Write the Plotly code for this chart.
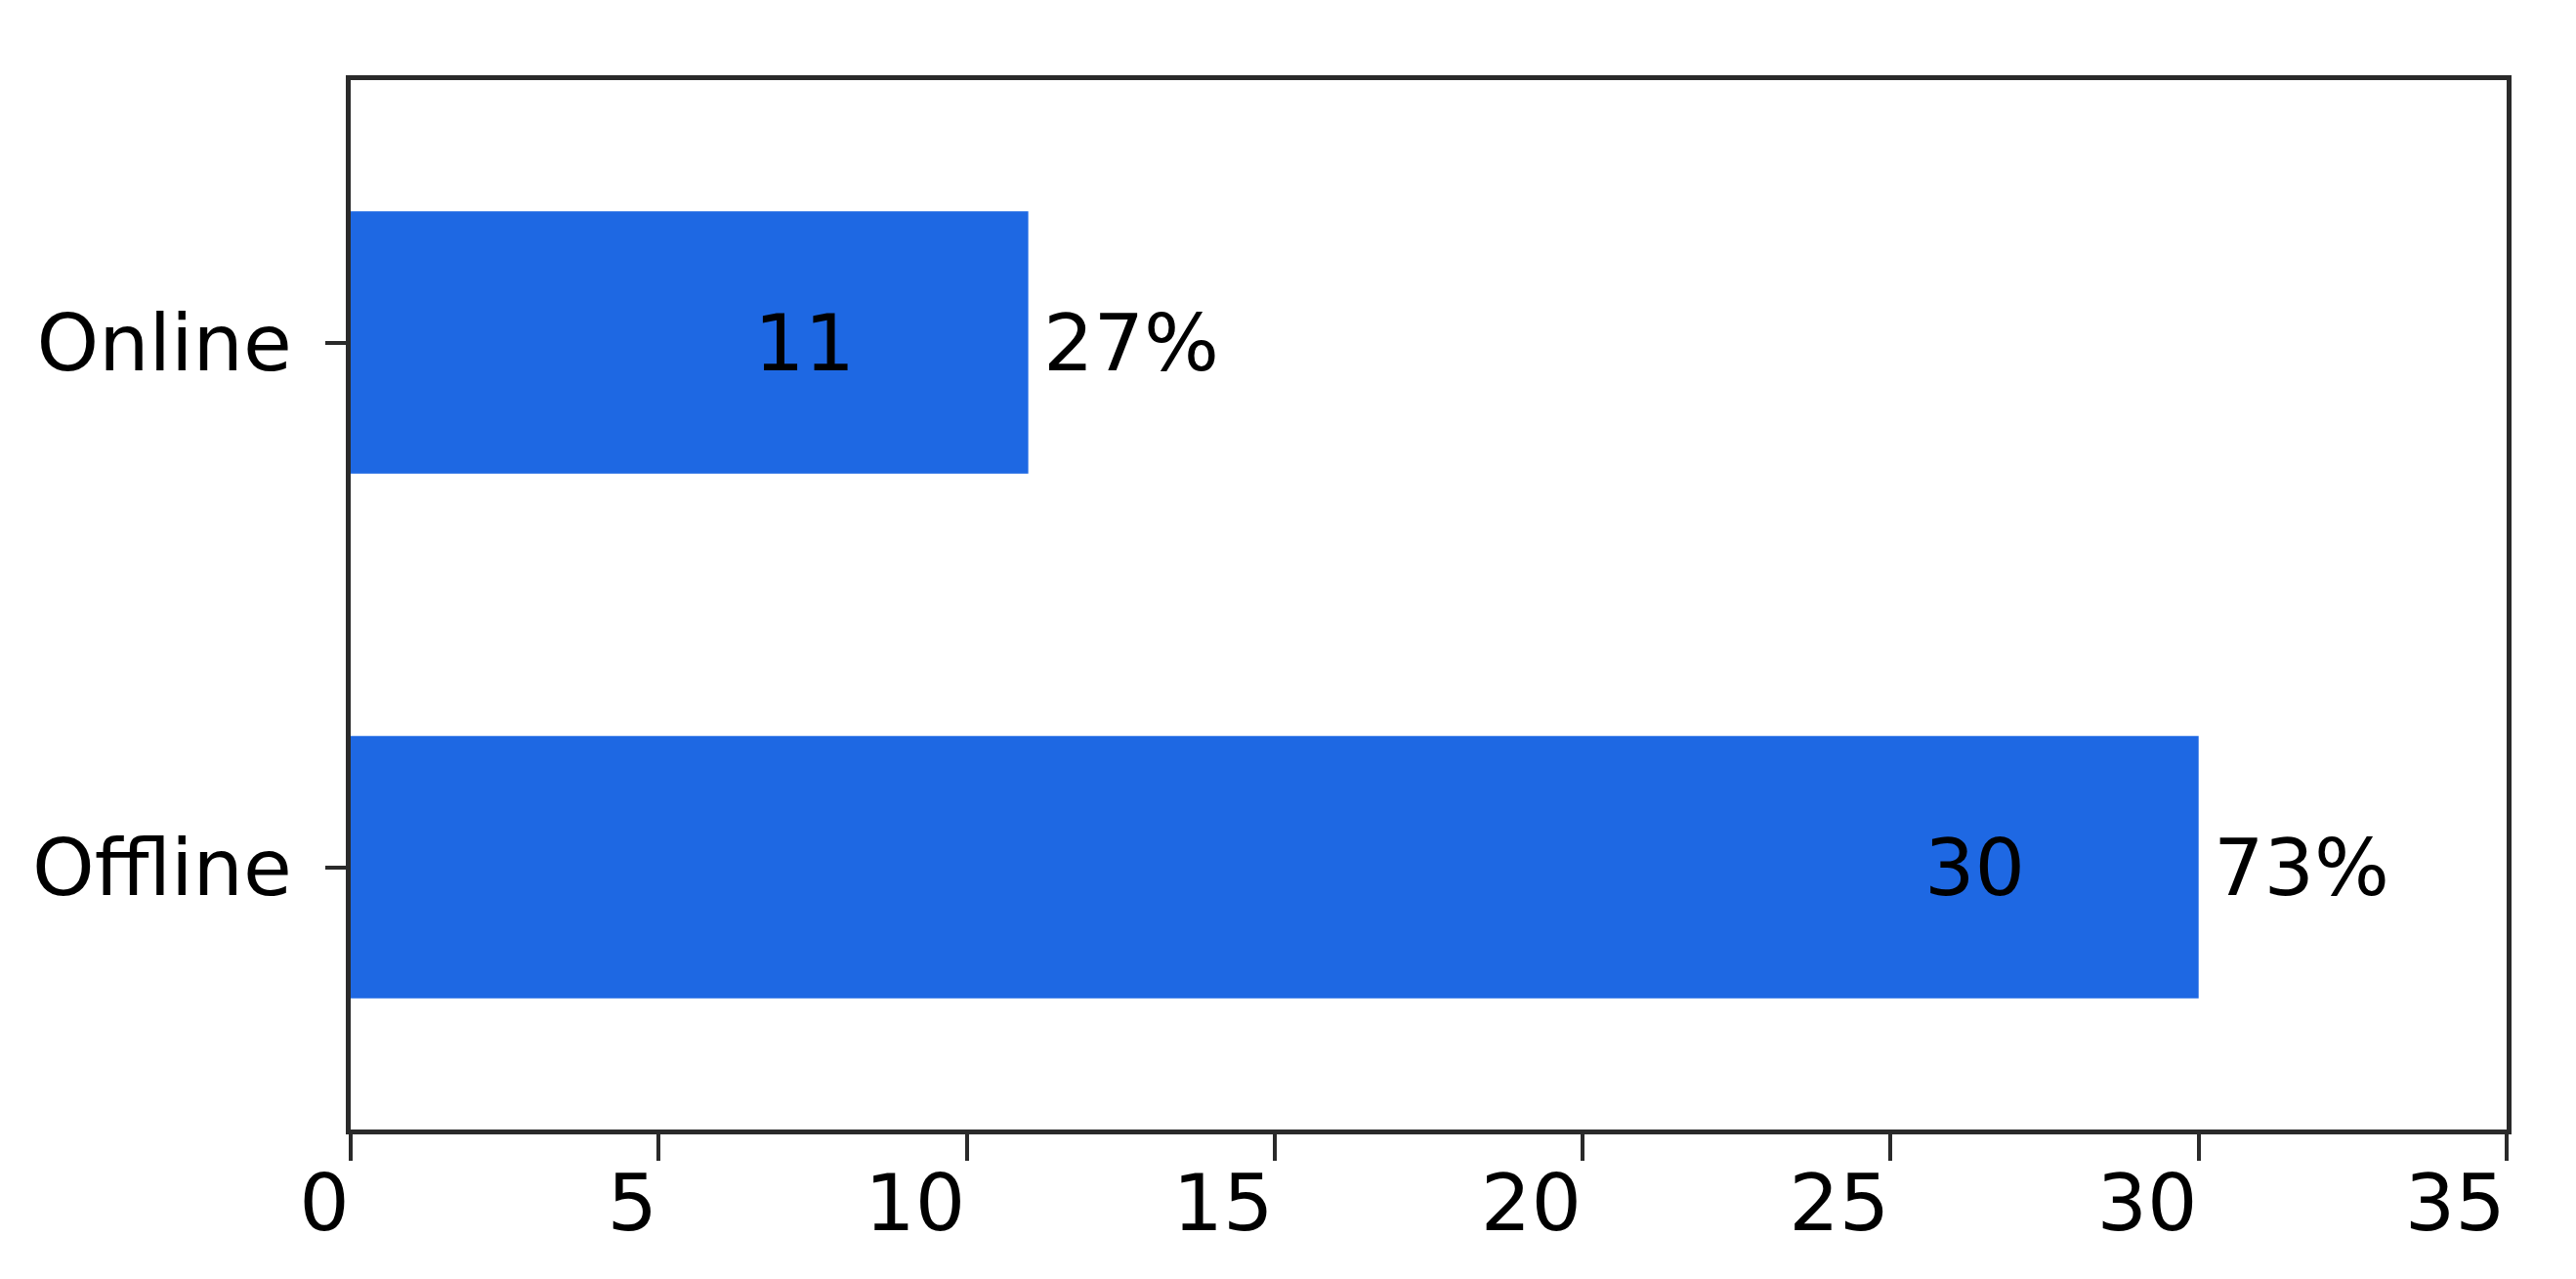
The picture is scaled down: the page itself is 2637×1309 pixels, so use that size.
import plotly.graph_objects as go

categories = ["Offline", "Online"]
counts = [30, 11]
percent_labels = ["73%", "27%"]
x_ticks = [0, 5, 10, 15, 20, 25, 30, 35]

BAR_COLOR = "#1e68e3"
AXIS_COLOR = "#2a2a2a"
FONT = "DejaVu Sans"
FS = 81

# tick labels sit left of their ticks in the reference (roughly right-aligned);
# multi-digit labels get one trailing figure space so they shift a bit further left
FIG_SPACE = "\u2007"
x_ticktext = [str(t) + (FIG_SPACE if len(str(t)) > 1 else "") for t in x_ticks]

fig = go.Figure()
fig.add_trace(go.Bar(
    x=counts, y=categories, orientation="h", width=0.5,
    marker=dict(color=BAR_COLOR, line=dict(width=0)),
    hoverinfo="skip",
))

for c, v, p in zip(categories, counts, percent_labels):
    fig.add_annotation(x=v, y=c, text=str(v), showarrow=False,
                       xanchor="right", yanchor="middle", xshift=-176,
                       font=dict(family=FONT, size=FS, color="black"))
    fig.add_annotation(x=v, y=c, text=p, showarrow=False,
                       xanchor="left", yanchor="middle", xshift=13,
                       font=dict(family=FONT, size=FS, color="black"))

fig.update_layout(
    width=2637, height=1309,
    margin=dict(l=351, r=79, t=74, b=161, pad=0, autoexpand=False),
    paper_bgcolor="white", plot_bgcolor="white",
    showlegend=False,
    font=dict(family=FONT, size=FS, color="black"),
)
fig.update_xaxes(
    range=[0, 35], tickvals=x_ticks, ticktext=x_ticktext,
    automargin=False,
    showgrid=False, zeroline=False,
    showline=True, mirror=True, linecolor=AXIS_COLOR, linewidth=5,
    ticks="outside", ticklen=27, tickwidth=4, tickcolor=AXIS_COLOR,
    ticklabelshift=-27, ticklabelstandoff=-26, ticklabeloverflow="allow",
    tickfont=dict(family=FONT, size=FS, color="black"),
)
fig.update_yaxes(
    type="category", categoryorder="array", categoryarray=categories,
    range=[-0.5, 1.5], automargin=False,
    showgrid=False, zeroline=False,
    showline=True, mirror=True, linecolor=AXIS_COLOR, linewidth=5,
    ticks="outside", ticklen=21, tickwidth=4, tickcolor=AXIS_COLOR,
    ticklabelstandoff=18,
    tickfont=dict(family=FONT, size=FS, color="black"),
)

fig.write_html("out.html")
